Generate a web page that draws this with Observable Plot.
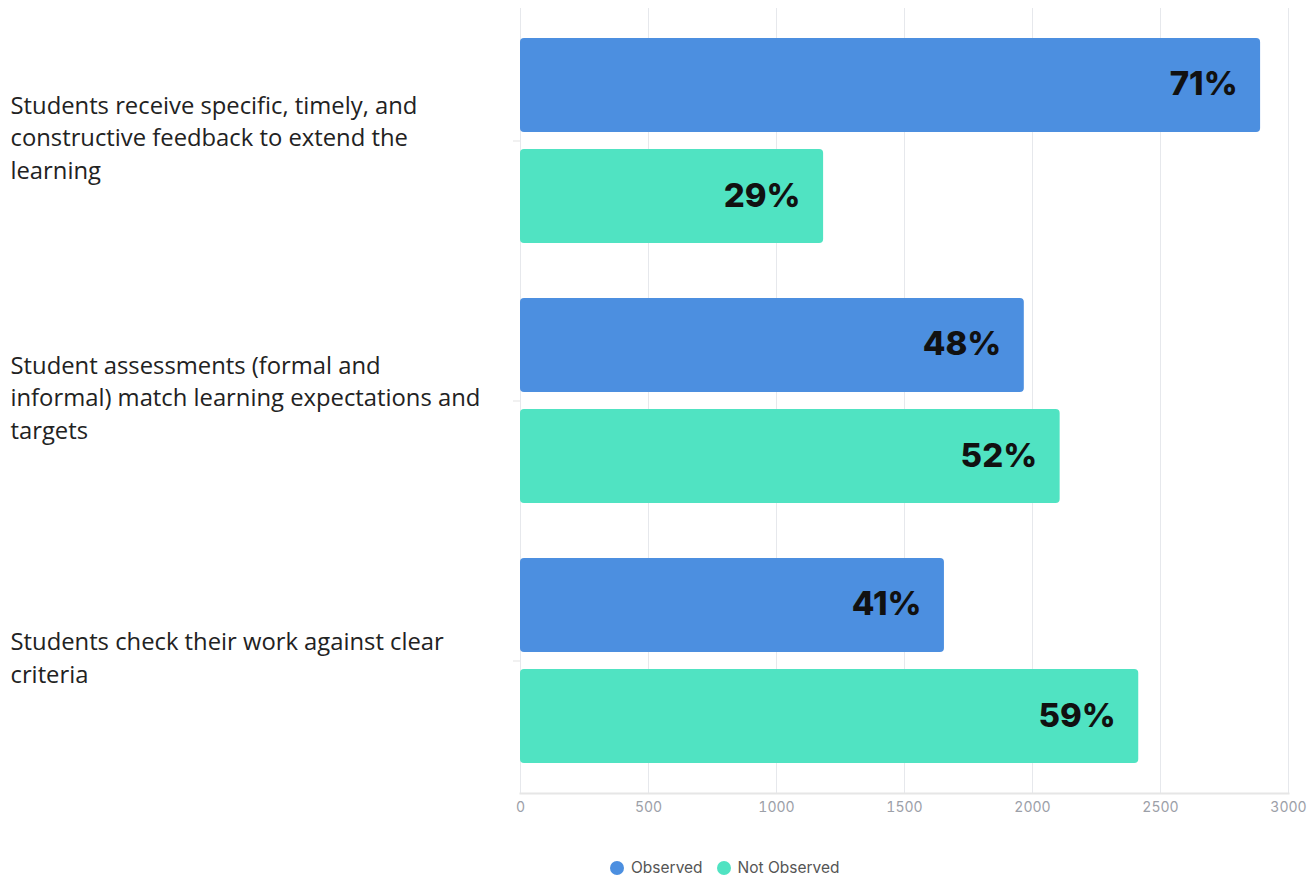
<!DOCTYPE html>
<html>
<head>
<meta charset="utf-8">
<script src="https://cdn.jsdelivr.net/npm/d3@7"></script>
<script src="https://cdn.jsdelivr.net/npm/@observablehq/plot@0.6"></script>
<style>
  html, body { margin: 0; background: #fff; font-family: "Open Sans", sans-serif; overflow: hidden; }
  #chart svg { display: block; }
  #legend { display: flex; gap: 14px; align-items: center; padding-left: 610px; margin-top: 30px; height: 16px; line-height: 16px;
    font-family: Inter, sans-serif; font-size: 15.5px; color: #555; }
  #legend span.item { display: flex; align-items: center; gap: 7px; }
  #legend span.dot { width: 14px; height: 14px; border-radius: 50%; display: inline-block; }
</style>
</head>
<body>
<div id="chart"></div>
<div id="legend"></div>
<script>
const groups = [
  "Students receive specific, timely, and\nconstructive feedback to extend the\nlearning",
  "Student assessments (formal and\ninformal) match learning expectations and\ntargets",
  "Students check their work against clear\ncriteria"
];
const series = ["Observed", "Not Observed"];
const observed = [2891, 1968, 1656];
const notObserved = [1184, 2108, 2415];
const xTicks = [0, 500, 1000, 1500, 2000, 2500, 3000];
const colors = ["#4c8fe0", "#50e3c2"];

const obsData = groups.map((g, i) => ({group: g, value: observed[i], pct: Math.round(100 * observed[i] / (observed[i] + notObserved[i])) + "%"}));
const notData = groups.map((g, i) => ({group: g, value: notObserved[i], pct: Math.round(100 * notObserved[i] / (observed[i] + notObserved[i])) + "%"}));

const chart = Plot.plot({
  width: 1310,
  height: 830,
  marginLeft: 520,
  marginRight: 22,
  marginTop: 8,
  marginBottom: 37,
  style: {fontFamily: "'Open Sans', sans-serif", background: "#fff"},
  x: {domain: [0, 3000], ticks: xTicks, label: null},
  y: {domain: groups, paddingInner: 0.21, paddingOuter: 0.11, label: null},
  marks: [
    Plot.gridX(xTicks, {stroke: "#e6e8ec", strokeOpacity: 1}),
    Plot.frame({anchor: "bottom", stroke: "#e6e6e6", strokeWidth: 2}),
    Plot.axisX({ticks: xTicks, tickFormat: d3.format("d"), tickSize: 0, tickPadding: 9, fontSize: 14, fill: "#9ca0a8", fontFamily: "Inter, sans-serif", label: null}),
    Plot.axisY({tickFormat: () => "", tickSize: 7, stroke: "#e3e3e3", label: null}),
    Plot.barX(obsData, {y: "group", x: "value", fill: colors[0], insetBottom: 111, rx: 4}),
    Plot.barX(notData, {y: "group", x: "value", fill: colors[1], insetTop: 111, rx: 4}),
    Plot.text(obsData, {y: "group", x: "value", text: "pct", textAnchor: "end", dx: -23, dy: -57, fontSize: 33, fontWeight: 800, fill: "#111", fontFamily: "Inter, sans-serif"}),
    Plot.text(notData, {y: "group", x: "value", text: "pct", textAnchor: "end", dx: -23, dy: 55, fontSize: 33, fontWeight: 800, fill: "#111", fontFamily: "Inter, sans-serif"}),
    Plot.text(groups, {y: d => d, text: d => d, frameAnchor: "left", textAnchor: "start", dx: -510, dy: -5, fontSize: 23.8, lineHeight: 1.37, fill: "#222", fontFamily: "'Open Sans', sans-serif"})
  ]
});
document.getElementById("chart").append(chart);

const legend = document.getElementById("legend");
series.forEach((s, i) => {
  const item = document.createElement("span");
  item.className = "item";
  const dot = document.createElement("span");
  dot.className = "dot";
  dot.style.background = colors[i];
  item.append(dot, document.createTextNode(s));
  legend.append(item);
});
</script>
</body>
</html>
